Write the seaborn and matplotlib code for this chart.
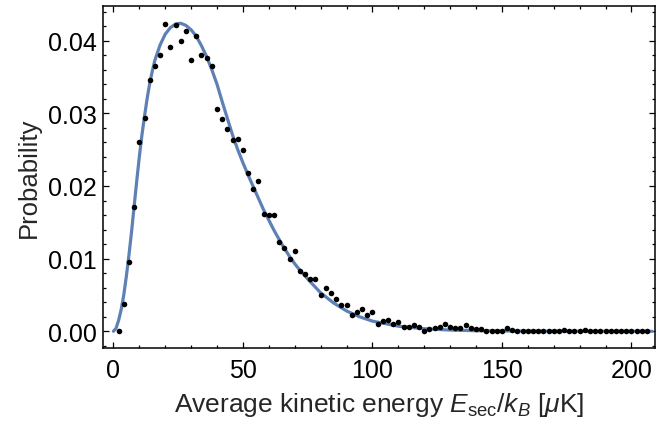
import numpy as np
import pandas as pd
import matplotlib
matplotlib.use("Agg")
import matplotlib.pyplot as plt
import seaborn as sns
from matplotlib.ticker import MultipleLocator, FormatStrFormatter

# measured distribution (bin centres in uK, probability per bin)
energia = [2, 4, 6, 8, 10, 12, 14, 16, 18, 20, 22, 24, 26, 28, 30, 32, 34, 36, 38, 40,
           42, 44, 46, 48, 50, 52, 54, 56, 58, 60, 62, 64, 66, 68, 70, 72, 74, 76, 78, 80,
           82, 84, 86, 88, 90, 92, 94, 96, 98, 100, 102, 104, 106, 108, 110, 112, 114, 116, 118, 120,
           122, 124, 126, 128, 130, 132, 134, 136, 138, 140, 142, 144, 146, 148, 150, 152, 154, 156, 158, 160,
           162, 164, 166, 168, 170, 172, 174, 176, 178, 180, 182, 184, 186, 188, 190, 192, 194, 196, 198, 200,
           202, 204, 206]
prob = [0.0000, 0.0037, 0.0095, 0.0171, 0.0261, 0.0293, 0.0346, 0.0365, 0.0380, 0.0423,
        0.0391, 0.0421, 0.0400, 0.0413, 0.0374, 0.0406, 0.0380, 0.0376, 0.0365, 0.0306,
        0.0292, 0.0278, 0.0263, 0.0265, 0.0250, 0.0218, 0.0196, 0.0207, 0.0162, 0.0160,
        0.0160, 0.0123, 0.0115, 0.0099, 0.0110, 0.0083, 0.0079, 0.0072, 0.0072, 0.0050,
        0.0059, 0.0053, 0.0044, 0.0036, 0.0036, 0.0023, 0.0027, 0.0030, 0.0023, 0.0027,
        0.0010, 0.0014, 0.0016, 0.0010, 0.0013, 0.0006, 0.0006, 0.0008, 0.0006, 0.0001,
        0.0003, 0.0005, 0.0006, 0.0010, 0.0006, 0.0005, 0.0005, 0.0008, 0.0005, 0.0003,
        0.0003, 0.0001, 0.0001, 0.0001, 0.0001, 0.0004, 0.0002, 0.0000, 0.0001, 0.0001,
        0.0000, 0.0001, 0.0001, 0.0000, 0.0000, 0.0001, 0.0002, 0.0001, 0.0001, 0.0001,
        0.0002, 0.0001, 0.0001, 0.0001, 0.0001, 0.0000, 0.0001, 0.0001, 0.0001, 0.0001,
        0.0000, 0.0000, 0.0001]

# fitted curve
fit_x = [0, 1, 2, 3, 4, 5, 6, 7, 8, 9, 10, 11, 12, 13, 14, 15, 16, 18, 20, 22,
         24, 26, 28, 30, 32, 34, 36, 38, 40, 42, 44, 46, 48, 50, 52, 55, 58, 60, 62, 65,
         68, 70, 72, 75, 80, 85, 90, 95, 100, 110, 120, 130, 140, 160, 180, 208]
fit_y = [0.0, 0.0004, 0.0015, 0.0030, 0.0050, 0.0076, 0.0105, 0.0137, 0.0172, 0.0207,
         0.0240, 0.0270, 0.0296, 0.0320, 0.0341, 0.0358, 0.0373, 0.0394, 0.0409, 0.0418,
         0.0423, 0.0424, 0.0421, 0.0415, 0.0406, 0.0393, 0.0378, 0.0360, 0.0340, 0.0316,
         0.0293, 0.0270, 0.0250, 0.0232, 0.0215, 0.0191, 0.0167, 0.0153, 0.0139, 0.0120,
         0.0103, 0.0093, 0.0084, 0.0072, 0.0053, 0.0039, 0.0028, 0.0020, 0.0014, 0.0007,
         0.00035, 0.00017, 0.00008, 0.00002, 0.0, 0.0]

df_pts = pd.DataFrame({"E": energia, "P": prob})
df_fit = pd.DataFrame({"E": fit_x, "P": fit_y})

sns.set_style("ticks")
plt.rcParams["font.family"] = ["Liberation Sans", "DejaVu Sans"]
plt.rcParams["mathtext.fontset"] = "custom"
plt.rcParams["mathtext.rm"] = "Liberation Sans"
plt.rcParams["mathtext.it"] = "Liberation Sans:italic"
plt.rcParams["mathtext.bf"] = "Liberation Sans:bold"

fig = plt.figure(figsize=(6.56, 4.27), dpi=100)
ax = fig.add_axes([0.1575, 0.182, 0.841, 0.802])

sns.lineplot(data=df_fit, x="E", y="P", color="#5E81B5", linewidth=2.3, ax=ax, zorder=2)
sns.scatterplot(data=df_pts, x="E", y="P", color="black", s=16, linewidth=0, ax=ax, zorder=3)

ax.set_xlim(-3.9, 209.1)
ax.set_ylim(-0.00234, 0.0448)

ax.xaxis.set_major_locator(MultipleLocator(50))
ax.xaxis.set_minor_locator(MultipleLocator(10))
ax.yaxis.set_major_locator(MultipleLocator(0.01))
ax.yaxis.set_minor_locator(MultipleLocator(0.002))
ax.yaxis.set_major_formatter(FormatStrFormatter("%.2f"))

ax.tick_params(which="both", direction="in", top=True, right=True, width=0.9, colors="black")
ax.tick_params(which="major", length=4.5, labelsize=18)
ax.tick_params(which="minor", length=2.3)
ax.tick_params(axis="x", which="major", pad=7)
ax.tick_params(axis="y", which="major", pad=5)

for sp in ax.spines.values():
    sp.set_linewidth(1.1)
    sp.set_color("black")

ax.set_xlabel(r"Average kinetic energy $E_{\mathrm{sec}}/k_B$ [$\mu$K]", fontsize=19, labelpad=6)
ax.set_ylabel("Probability", fontsize=18.5, labelpad=5)

fig.savefig("out.png", dpi=100)
